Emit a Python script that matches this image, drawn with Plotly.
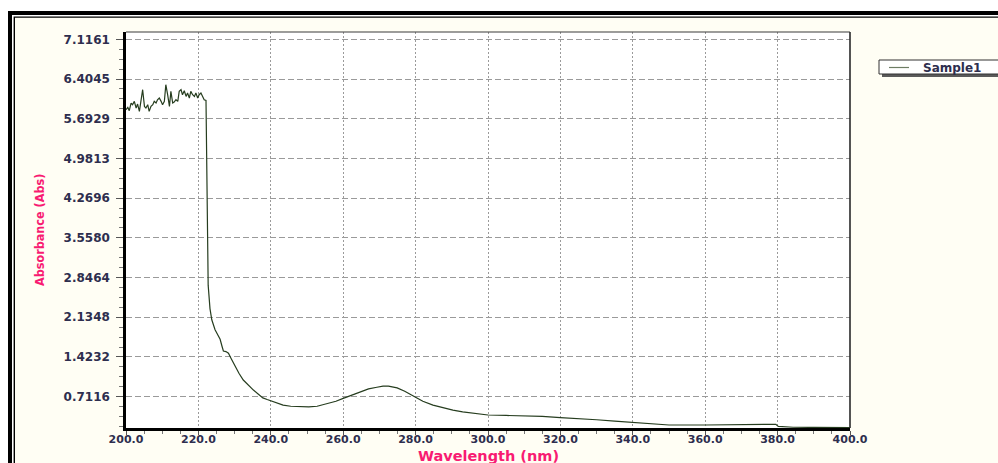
import plotly.graph_objects as go

# ---- spectrum data: wavelength (nm) and absorbance (Abs) ----
series_name = "Sample1"

wavelength = [
    200.0, 200.5, 200.9, 201.4, 201.8, 202.3, 202.8, 203.2, 203.7, 204.1,
    204.6, 205.1, 205.5, 206.0, 206.4, 206.9, 207.4, 207.8, 208.3, 208.7,
    209.2, 209.7, 210.1, 210.6, 211.0, 211.5, 212.0, 212.4, 212.9, 213.3,
    213.8, 214.3, 214.7, 215.2, 215.6, 216.1, 216.6, 217.0, 217.5, 217.9,
    218.4, 218.9, 219.3, 219.8, 220.2, 220.7, 221.2, 221.6, 222.1,
    222.3, 222.7, 223.2, 223.7, 224.6, 225.3, 226.0, 226.5, 226.9, 227.6,
    228.3, 229.0, 230.1, 231.2, 232.4, 233.8, 235.2, 236.5, 237.8, 239.0,
    240.3, 241.8, 243.4, 245.5, 248.1, 250.5, 252.8, 255.5, 258.0, 260.0,
    262.3, 264.6, 267.0, 269.3, 271.0, 272.5, 274.9, 277.0, 279.8, 282.0,
    284.8, 287.5, 290.3, 293.0, 295.0, 297.5, 300.0, 305.0, 310.0, 313.5,
    314.0, 315.0, 320.0, 325.0, 330.0, 335.0, 340.0, 345.0, 350.0, 360.0,
    370.0, 379.5, 380.2, 384.3, 390.0, 395.0, 400.0,
]

absorbance = [
    5.854, 5.896, 5.836, 5.974, 5.944, 6.004, 5.884, 5.956, 5.825, 6.004,
    6.213, 5.914, 5.884, 5.944, 5.825, 5.914, 5.944, 6.004, 5.974, 6.033,
    6.063, 6.004, 5.944, 6.004, 6.302, 6.123, 5.914, 6.183, 5.974, 5.992,
    6.033, 6.004, 6.183, 6.213, 6.123, 6.195, 6.093, 6.153, 6.063, 6.183,
    6.123, 6.093, 6.153, 6.063, 6.123, 6.153, 6.093, 6.033, 6.020,
    4.470, 2.710, 2.290, 2.090, 1.910, 1.820, 1.740, 1.620, 1.530, 1.520,
    1.490, 1.400, 1.250, 1.130, 1.010, 0.910, 0.830, 0.760, 0.690, 0.660,
    0.630, 0.590, 0.560, 0.540, 0.530, 0.530, 0.540, 0.580, 0.630, 0.680,
    0.740, 0.790, 0.850, 0.880, 0.900, 0.900, 0.870, 0.810, 0.710, 0.630,
    0.560, 0.510, 0.470, 0.440, 0.420, 0.400, 0.383, 0.375, 0.366, 0.362,
    0.372, 0.360, 0.335, 0.320, 0.298, 0.272, 0.246, 0.224, 0.204, 0.204,
    0.205, 0.216, 0.178, 0.163, 0.160, 0.158, 0.157,
]

# axis ticks as printed by the instrument software
y_tickvals = [0.7116, 1.4232, 2.1348, 2.8464, 3.5580, 4.2696, 4.9813, 5.6929, 6.4045, 7.1161]
y_ticktext = ["0.7116", "1.4232", "2.1348", "2.8464", "3.5580", "4.2696", "4.9813", "5.6929", "6.4045", "7.1161"]
x_tickvals = [200, 220, 240, 260, 280, 300, 320, 340, 360, 380, 400]
x_ticktext = ["200.0", "220.0", "240.0", "260.0", "280.0", "300.0", "320.0", "340.0", "360.0", "380.0", "400.0"]

x_title = "Wavelength (nm)"
y_title = "Absorbance (Abs)"

# ---- layout geometry (pixels) ----
W, H = 998, 463
L, R, T, B = 126, 850, 32, 428  # plot-area edges


def px(x):
    return (x - L) / (R - L)


def py(y):
    return (B - y) / (B - T)


PINK = "#f81b72"
TICKCOLOR = "#2e2e4e"
CREAM = "#fffef4"
GRID = "#9a9a9a"

fig = go.Figure()
fig.add_trace(go.Scatter(
    x=wavelength, y=absorbance, mode="lines", name=series_name,
    line=dict(color="#263d1f", width=1.2), showlegend=False,
))

shapes = [
    # double frame round the chart window
    dict(type="rect", xref="paper", yref="paper", x0=px(8), y0=py(600), x1=px(1300), y1=py(11),
         fillcolor="black", line_width=0, layer="below"),
    dict(type="rect", xref="paper", yref="paper", x0=px(12), y0=py(600), x1=px(1300), y1=py(15),
         fillcolor="white", line_width=0, layer="below"),
    dict(type="rect", xref="paper", yref="paper", x0=px(13.6), y0=py(600), x1=px(1300), y1=py(16.4),
         fillcolor="black", line_width=0, layer="below"),
    dict(type="rect", xref="paper", yref="paper", x0=px(15), y0=py(600), x1=px(1300), y1=py(17.8),
         fillcolor=CREAM, line_width=0, layer="below"),
    # white plotting area
    dict(type="rect", xref="paper", yref="paper", x0=0, y0=0, x1=1, y1=1,
         fillcolor="white", line_width=0, layer="below"),
    # thin top and right border of the plotting area
    dict(type="line", xref="paper", yref="paper", x0=0, y0=1, x1=1, y1=1,
         line=dict(color="#3a3a3a", width=1.2)),
    dict(type="line", xref="paper", yref="paper", x0=1, y0=0, x1=1, y1=1,
         line=dict(color="#2a2a2a", width=1.6)),
    # legend box with drop shadow
    dict(type="rect", xref="paper", yref="paper", x0=px(882), y0=py(77), x1=px(1100), y1=py(63),
         fillcolor="#5a5a5a", line_width=0),
    dict(type="rect", xref="paper", yref="paper", x0=px(879), y0=py(74), x1=px(1100), y1=py(60),
         fillcolor="white", line=dict(color="#333333", width=1)),
    dict(type="line", xref="paper", yref="paper", x0=px(889), y0=py(67.5), x1=px(909), y1=py(67.5),
         line=dict(color="#6d7d63", width=1.2)),
]

annotations = [
    dict(text=series_name, xref="paper", yref="paper", x=px(921), y=py(67.5),
         xanchor="left", yanchor="middle", showarrow=False,
         font=dict(family="DejaVu Sans", size=12, color=TICKCOLOR, weight="bold")),
    dict(text=x_title, xref="paper", yref="paper", x=0.5, y=py(455.5),
         xanchor="center", yanchor="middle", showarrow=False,
         font=dict(family="DejaVu Sans", size=14.5, color=PINK, weight="bold")),
    dict(text=y_title, xref="paper", yref="paper", x=px(39), y=0.5, textangle=-90,
         xanchor="center", yanchor="middle", showarrow=False,
         font=dict(family="DejaVu Sans Condensed, Liberation Sans Narrow, Liberation Sans",
                   size=12.5, color=PINK, weight="bold")),
]

fig.update_layout(
    width=W, height=H,
    margin=dict(l=L, r=W - R, t=T, b=H - B, pad=0),
    paper_bgcolor="white", plot_bgcolor="white",
    shapes=shapes, annotations=annotations,
    showlegend=False,
)

fig.update_xaxes(
    range=[200, 400], tickmode="array", tickvals=x_tickvals, ticktext=x_ticktext,
    showline=True, linecolor="black", linewidth=2.5,
    ticks="outside", ticklen=4, tickwidth=1, tickcolor="#555555",
    tickfont=dict(family="DejaVu Sans", size=11, color=TICKCOLOR, weight="bold"),
    ticklabelstandoff=-5,
    showgrid=True, gridcolor=GRID, gridwidth=1, griddash="2px,2px",
    minor=dict(tick0=200, dtick=5, ticks="outside", ticklen=3, tickcolor="#777777", showgrid=False),
    zeroline=False,
)
fig.update_yaxes(
    range=[0.15, 7.247], tickmode="array", tickvals=y_tickvals, ticktext=y_ticktext,
    showline=True, linecolor="black", linewidth=2.5,
    ticks="outside", ticklen=7, tickwidth=1, tickcolor="#555555",
    tickfont=dict(family="DejaVu Sans", size=12, color=TICKCOLOR, weight="bold"),
    ticklabelstandoff=4,
    showgrid=True, gridcolor=GRID, gridwidth=1, griddash="6px,3px",
    minor=dict(tick0=0, dtick=0.71161 / 4, ticks="outside", ticklen=4, tickcolor="#777777", showgrid=False),
    zeroline=False,
)

fig.write_html("out.html")
